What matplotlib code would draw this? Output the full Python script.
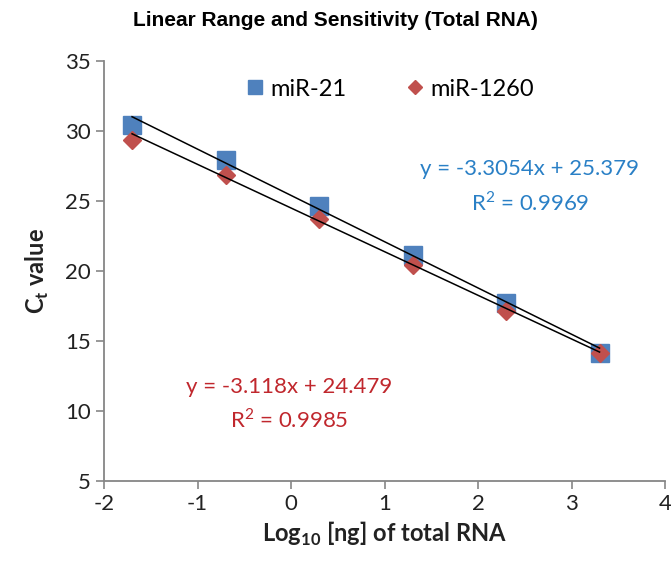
import numpy as np
import matplotlib
matplotlib.use('Agg')
import matplotlib.pyplot as plt

plt.rcParams['font.family'] = ['Lato', 'DejaVu Sans']
plt.rcParams['mathtext.fontset'] = 'custom'
plt.rcParams['mathtext.rm'] = 'Lato'
plt.rcParams['axes.unicode_minus'] = False

# данные
log_ng = [-1.7, -0.7, 0.3, 1.3, 2.3, 3.3]
ct_mir21 = [30.4, 27.9, 24.6, 21.1, 17.7, 14.1]
ct_mir1260 = [29.3, 26.8, 23.7, 20.4, 17.1, 14.1]

# линии тренда (как подписано на графике)
slope21, icpt21, r2_21 = -3.3054, 25.379, 0.9969
slope1260, icpt1260, r2_1260 = -3.118, 24.479, 0.9985

blue = '#4F81BD'
red = '#C0504D'
gray = '#868686'

fig = plt.figure(figsize=(6.71, 5.71), dpi=100)
ax = fig.add_axes([104 / 671, 1 - 480.7 / 571, (665 - 104) / 671, 420 / 571])

x = np.array(log_ng)
ax.plot(x, ct_mir21, 's', color=blue, markersize=13.5, label='miR-21', zorder=3)
ax.plot(x, ct_mir1260, 'D', color=red, markersize=9, label='miR-1260', zorder=4)
xx = np.array([x.min(), x.max()])
ax.plot(xx, slope21 * xx + icpt21, color='black', lw=1.1, zorder=5)
ax.plot(xx, slope1260 * xx + icpt1260, color='black', lw=1.1, zorder=5)

ax.set_xlim(-2, 4)
ax.set_ylim(5, 35)
ax.set_xticks(range(-2, 5))
ax.set_yticks(range(5, 36, 5))
for s in ['top', 'right']:
    ax.spines[s].set_visible(False)
for s in ['left', 'bottom']:
    ax.spines[s].set_color(gray)
    ax.spines[s].set_linewidth(1.3)
ax.tick_params(colors=gray, labelcolor='#222222', labelsize=16, length=6, width=1.2)

ax.set_xlabel(r'Log$_\mathregular{10}$ [ng] of total RNA', fontsize=17, fontweight='bold',
              color='#222222', labelpad=4)
ax.set_ylabel(r'C$_\mathregular{t}$ value', fontsize=17, fontweight='bold', color='#222222',
              labelpad=10)

fig.text(0.5, 1 - 21 / 571, 'Linear Range and Sensitivity (Total RNA)', ha='center', va='center',
         fontsize=15, fontweight='bold', family='Liberation Sans')

leg = ax.legend(loc='center', bbox_to_anchor=((389 - 104) / 561, (480.7 - 89) / 420), ncol=2,
                frameon=False, fontsize=17, handletextpad=0.15, columnspacing=2.4,
                handlelength=1.0, markerscale=0.75)

def eq_text(a, b):
    return 'y = %gx + %g' % (a, b)

ax.text(-2 + (530 - 104.7) / 93.4, 35 - (169 - 60.7) / 14, eq_text(slope21, icpt21),
        color='#2a80c6', fontsize=16, ha='center', va='center')
ax.text(-2 + (530 - 104.7) / 93.4, 35 - (203 - 60.7) / 14, 'R$^2$ = %g' % r2_21,
        color='#2a80c6', fontsize=16, ha='center', va='center')
ax.text(-2 + (290 - 104.7) / 93.4, 35 - (387 - 60.7) / 14, eq_text(slope1260, icpt1260),
        color='#c0272d', fontsize=16, ha='center', va='center')
ax.text(-2 + (290 - 104.7) / 93.4, 35 - (420 - 60.7) / 14, 'R$^2$ = %g' % r2_1260,
        color='#c0272d', fontsize=16, ha='center', va='center')

fig.savefig('out.png', dpi=100)
